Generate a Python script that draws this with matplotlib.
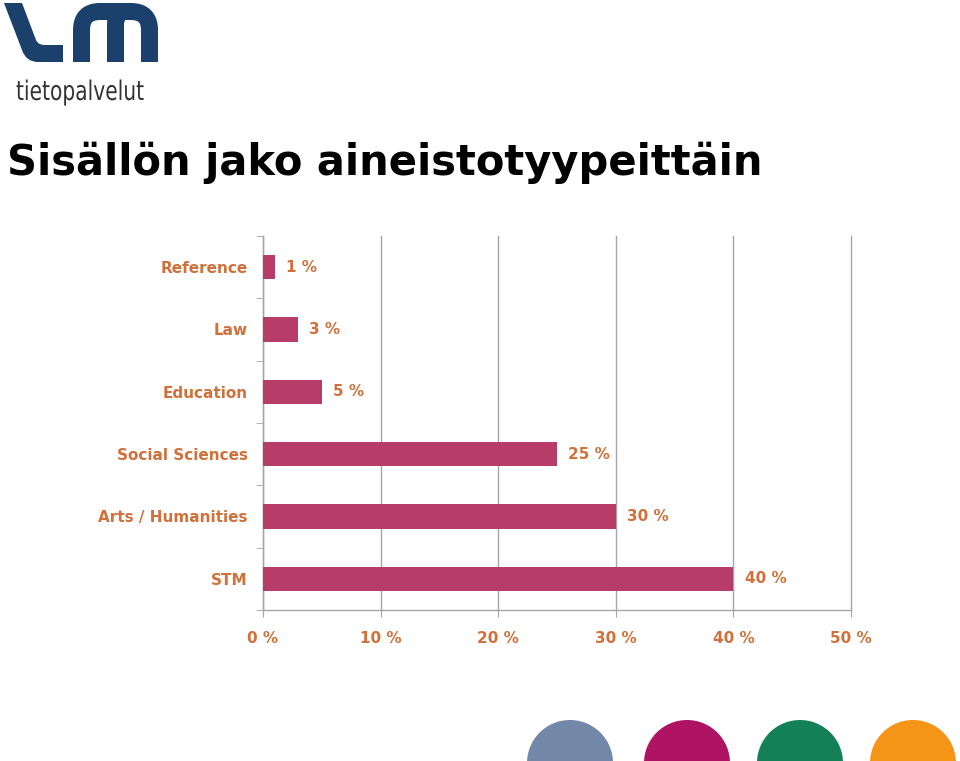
import matplotlib
matplotlib.use("Agg")
import matplotlib.pyplot as plt
from matplotlib.path import Path
from matplotlib.patches import PathPatch, Circle
from matplotlib.textpath import TextPath
from matplotlib.font_manager import FontProperties
from matplotlib.transforms import Affine2D
import numpy as np

# data
categories = ["Reference", "Law", "Education", "Social Sciences", "Arts / Humanities", "STM"]
shares = [1, 3, 5, 25, 30, 40]
xticks = [0, 10, 20, 30, 40, 50]

BAR = "#b83c68"
TXT = "#d0703a"
GRID = "#a6a6a6"
LOGO = "#1b406b"

fig = plt.figure(figsize=(9.6, 7.61), dpi=100)

# overlay in pixel coords for logo / decoration
deco = fig.add_axes([0, 0, 1, 1])
deco.set_xlim(0, 960)
deco.set_ylim(761, 0)
deco.axis("off")

# L of the logo (filled outline)
L = Path([(4, 3), (22, 3), (36, 40), (38, 45), (45, 45), (63, 45), (63, 62),
          (38, 62), (26, 62), (22, 50), (4, 3)],
         [Path.MOVETO, Path.LINETO, Path.LINETO, Path.CURVE3, Path.CURVE3,
          Path.LINETO, Path.LINETO, Path.LINETO, Path.CURVE3, Path.CURVE3,
          Path.CLOSEPOLY])
deco.add_patch(PathPatch(L, fc=LOGO, ec="none"))

# m of the logo
lw = 17 * 0.72
M = Path([(81.5, 62), (81.5, 30), (81.5, 11.5), (100, 11.5), (131, 11.5),
          (149.5, 11.5), (149.5, 30), (149.5, 62)],
         [Path.MOVETO, Path.LINETO, Path.CURVE3, Path.CURVE3, Path.LINETO,
          Path.CURVE3, Path.CURVE3, Path.LINETO])
deco.add_patch(PathPatch(M, fill=False, ec=LOGO, lw=lw, capstyle="butt", joinstyle="round"))
M2 = Path([(115.5, 62), (115.5, 25), (115.5, 11.5), (125, 11.5)],
          [Path.MOVETO, Path.LINETO, Path.CURVE3, Path.CURVE3])
deco.add_patch(PathPatch(M2, fill=False, ec=LOGO, lw=lw, capstyle="butt"))

# condensed thin "tietopalvelut"
tp = TextPath((0, 0), "tietopalvelut", size=27,
              prop=FontProperties(family="DejaVu Sans", weight="normal"))
tp = Affine2D().scale(0.75, -1).translate(16, 100).transform_path(tp)
deco.add_patch(PathPatch(tp, fc="#333333", ec="none"))

deco.text(7, 175, "Sisällön jako aineistotyypeittäin", fontsize=30, fontweight="bold",
          family="DejaVu Sans", color="black", va="baseline", ha="left")

for cx, col in zip([570, 687, 800, 913], ["#7388a8", "#ae1463", "#138057", "#f59518"]):
    deco.add_patch(Circle((cx, 763), 43, color=col, lw=0))

# the bar chart
ax = fig.add_axes([263 / 960, 1 - 610 / 761, (851 - 263) / 960, (610 - 236) / 761])
y = np.arange(len(categories))
ax.barh(y, shares, height=0.39, color=BAR, zorder=3)
ax.set_xlim(0, 50)
ax.set_ylim(len(categories) - 0.5, -0.5)
ax.set_xticks(xticks)
ax.set_xticklabels([f"{v} %" for v in xticks])
ax.set_yticks(y)
ax.set_yticklabels(categories)
ax.set_yticks(np.arange(-0.5, len(categories), 1), minor=True)
ax.tick_params(axis="y", which="major", length=0, pad=11)
ax.tick_params(axis="y", which="minor", length=5, color=GRID, direction="out")
ax.tick_params(axis="x", length=5, color=GRID, direction="out", pad=10)
for lab in ax.get_xticklabels() + ax.get_yticklabels():
    lab.set_color(TXT)
    lab.set_fontweight("bold")
    lab.set_fontsize(11)
    lab.set_family("DejaVu Sans")
ax.grid(axis="x", color=GRID, lw=1, zorder=0)
for gl in ax.get_xgridlines():
    gl.set_clip_on(False)
for side in ["top", "right"]:
    ax.spines[side].set_visible(False)
for side in ["left", "bottom"]:
    ax.spines[side].set_color(GRID)
    ax.spines[side].set_linewidth(1)

for yi, v in zip(y, shares):
    ax.annotate(f"{v} %", (v, yi), xytext=(8, 0), textcoords="offset points",
                va="center", ha="left", color=TXT, fontsize=11, fontweight="bold")

fig.savefig("out.png", dpi=100)
